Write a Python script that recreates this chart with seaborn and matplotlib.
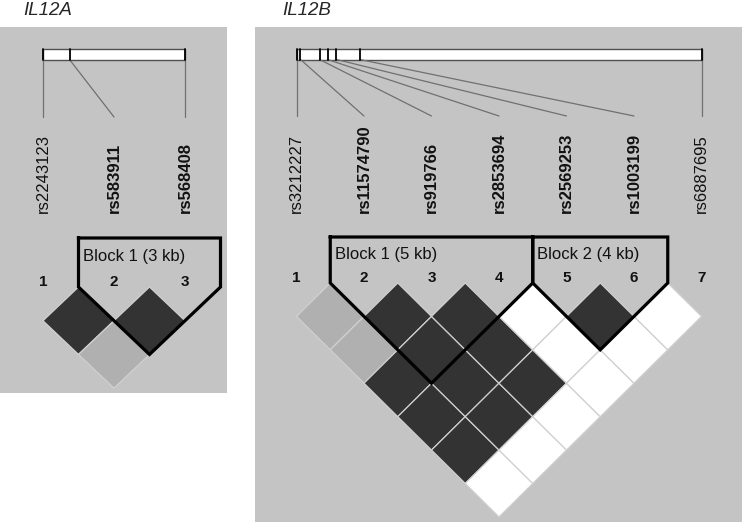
import numpy as np
import pandas as pd
import matplotlib
matplotlib.use("Agg")
import matplotlib.pyplot as plt
from matplotlib.patches import Rectangle
from matplotlib.path import Path
import seaborn as sns

# ---- data ----
# IL12A
snps_a = ["rs2243123", "rs583911", "rs568408"]
bold_a = [False, True, True]
pos_a = [0.0, 0.7, 3.7]          # kb from first SNP
ld_a = [[0.8, 0.31],
        [0.8]]                   # r2 shade, row i = pairs (i, i+1..)
blocks_a = [(2, 3, "Block 1 (3 kb)")]

# IL12B
snps_b = ["rs3212227", "rs11574790", "rs919766", "rs2853694",
          "rs2569253", "rs1003199", "rs6887695"]
bold_b = [False, True, True, True, True, True, False]
pos_b = [0.0, 0.71, 4.11, 5.54, 7.14, 11.3, 72.3]
ld_b = [[0.31, 0.31, 0.8, 0.8, 0.8, 0.0],
        [0.8, 0.8, 0.8, 0.8, 0.0],
        [0.8, 0.8, 0.8, 0.0],
        [0.0, 0.0, 0.0],
        [0.8, 0.0],
        [0.0]]
blocks_b = [(2, 4, "Block 1 (5 kb)"), (5, 6, "Block 2 (4 kb)")]

DPI = 100
BG = "#c4c4c4"

# layout in pixels (canvas 742 x 522)
lay_a = dict(rect=(0, 27, 227, 393), x0=43, step=71, bar=(49, 60), line_end=117,
             label_y=213, dtop=287, vratio=0.95, block_top=238, block_text_y=261.5)
lay_b = dict(rect=(255, 27, 742, 522), x0=296.5, step=67.5, bar=(48.5, 59.5), line_end=116,
             label_y=213, dtop=283, vratio=0.99, block_top=237, block_text_y=259.5)

sns.set_style("white")
plt.rcParams["font.family"] = ["Liberation Sans", "DejaVu Sans"]


def draw_panel(ax, snps, bold, pos, ld, blocks, lay):
    left, top, right, bottom = lay["rect"]
    ax.add_patch(Rectangle((left, top), right - left, bottom - top, color=BG, lw=0, zorder=0))
    n = len(snps)
    xs = lay["x0"] + lay["step"] * np.arange(n)
    hh = lay["step"] / 2
    hv = hh * lay["vratio"]

    # physical map bar
    b0, b1 = lay["bar"]
    p = np.array(pos)
    bx = xs[0] + (p - p[0]) / (p[-1] - p[0]) * (xs[-1] - xs[0])
    ax.add_patch(Rectangle((xs[0], b0), xs[-1] - xs[0], b1 - b0, fc="white",
                           ec="#505050", lw=1, zorder=1))
    for i in range(n):
        ax.plot([bx[i], bx[i]], [b0, b1], color="black", lw=1.3, zorder=2)
        ax.plot([bx[i], xs[i]], [b1, lay["line_end"]], color="#707070", lw=0.9, zorder=1)
        ax.text(xs[i], lay["label_y"], snps[i], rotation=90, ha="center", va="bottom",
                fontsize=12, fontweight="bold" if bold[i] else "normal", color="#111111")
        ax.text(xs[i], lay["dtop"] - 0.5, str(i + 1), ha="center", va="baseline",
                fontsize=11, fontweight="bold", color="#111111")

    # LD diamonds
    rows = []
    for i in range(n - 1):
        for k, v in enumerate(ld[i]):
            j = i + 1 + k
            rows.append({"x": (xs[i] + xs[j]) / 2, "y": lay["dtop"] + (j - i) * hv, "r2": v})
    df = pd.DataFrame(rows)
    vr = lay["vratio"]
    verts = [(-1, 0), (0, vr), (1, 0), (0, -vr), (-1, 0)]
    diamond = Path(verts, closed=True)
    w_pt = 2 * hh * 72 / DPI
    sns.scatterplot(data=df, x="x", y="y", hue="r2", palette="gray_r", hue_norm=(0, 1),
                    marker=diamond, s=w_pt ** 2, edgecolor="#d0d0d0", linewidth=0.9,
                    legend=False, ax=ax, zorder=2)

    # haplotype blocks
    bt = lay["block_top"]
    dt = lay["dtop"]
    for s_, e_, label in blocks:
        xl = xs[s_ - 1] - hh
        xr = xs[e_ - 1] + hh
        xm = (xl + xr) / 2
        yv = dt + (xr - xl) / 2 * vr
        ax.plot([xl, xr, xr, xm, xl, xl], [bt, bt, dt, yv, dt, bt], color="black",
                lw=2.3, zorder=3, solid_joinstyle="miter", solid_capstyle="projecting")
        ax.text(xl + 4.5, lay["block_text_y"], label, fontsize=12, va="baseline", color="#111111")


fig = plt.figure(figsize=(7.42, 5.22), dpi=DPI)
ax = fig.add_axes([0, 0, 1, 1])

draw_panel(ax, snps_a, bold_a, pos_a, ld_a, blocks_a, lay_a)
draw_panel(ax, snps_b, bold_b, pos_b, ld_b, blocks_b, lay_b)

ax.text(23, 15, "IL12A", fontsize=13.5, style="italic", va="baseline")
ax.text(282, 15, "IL12B", fontsize=13.5, style="italic", va="baseline")

ax.set_xlim(0, 742)
ax.set_ylim(522, 0)
ax.axis("off")

fig.savefig("out.png", dpi=DPI)
plt.close()
